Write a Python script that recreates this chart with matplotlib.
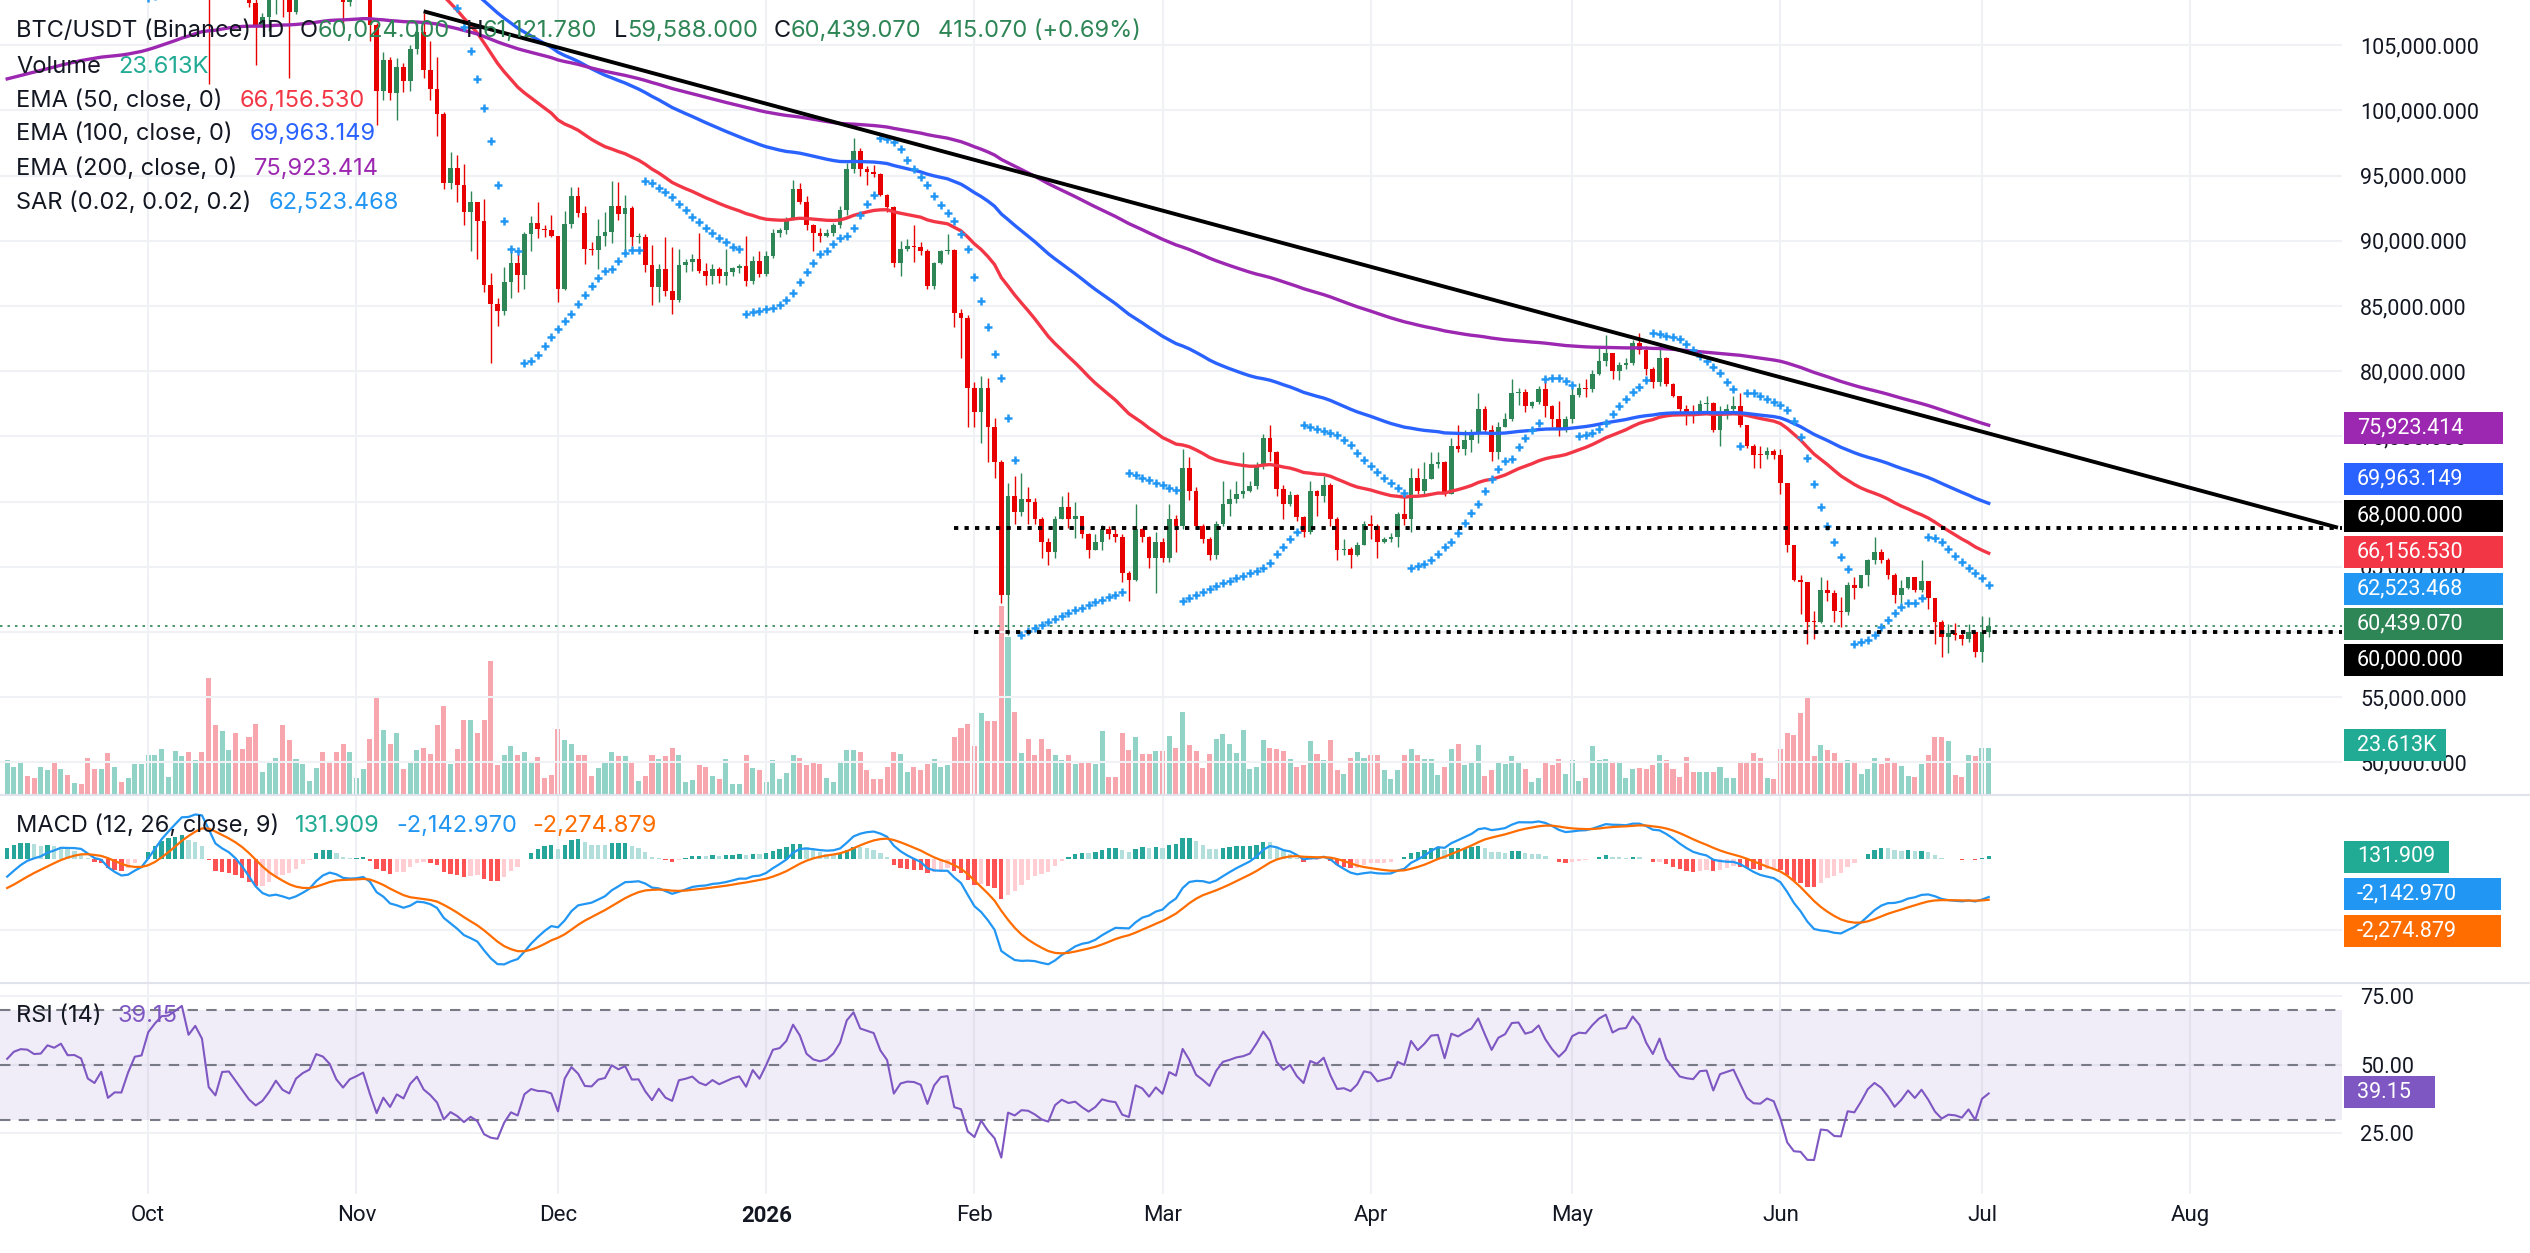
import numpy as np
import pandas as pd
import matplotlib
matplotlib.use("Agg")
import matplotlib.pyplot as plt
from matplotlib.patches import Rectangle
from matplotlib.lines import Line2D

plt.rcParams['font.family'] = ['Roboto', 'DejaVu Sans']

W, H = 2530, 1253
CW = 2342  # width of the plotting area in px

# ---------------- daily BTC/USDT candles, 2025-09-10 .. 2026-07-02 ----------------
start_date = "2025-09-10"
first_open = 111400

close_sep = [113960, 115480, 116030, 115950, 115270, 115350, 116790, 116470, 117140, 115690, 115720,
             115310, 112650, 111990, 113310, 109050, 109710, 109680, 112120, 114400, 114600]
high_sep = [114300, 115900, 116300, 116500, 116100, 116200, 117000, 117300, 117900, 117500, 116200,
            115900, 115500, 113300, 113900, 113500, 110300, 110000, 112500, 114500, 114800]
low_sep = [110600, 113400, 114700, 115200, 114600, 114500, 114700, 114800, 115800, 115200, 115400,
           115100, 111900, 111500, 111700, 108600, 108600, 109100, 109300, 111600, 112600]

close_oct = [118650, 120550, 122270, 122400, 123510, 124750, 121450, 123350, 121700, 112800, 110650,
             115170, 115270, 113120, 110770, 108200, 106450, 107190, 108650, 110580, 108450, 107580,
             110050, 111030, 111640, 114530, 114120, 112900, 110030, 108320, 109610]
high_oct = [118800, 121000, 123900, 122900, 125700, 126200, 125000, 124200, 123800, 122600, 113400,
            115800, 116000, 115700, 113600, 111900, 109300, 107500, 109400, 111700, 114000, 109800,
            111200, 112000, 111900, 115000, 116100, 116100, 113700, 111800, 111200]
low_oct = [114000, 117900, 119300, 121600, 121700, 123100, 120600, 120900, 119600, 102000, 109600,
           110800, 113800, 109700, 110000, 107900, 103500, 106400, 106100, 107400, 107200, 102500,
           107400, 109700, 110800, 111200, 113700, 112100, 109700, 106300, 108000]

close_nov = [110100, 110640, 106530, 101500, 103890, 101300, 103340, 102280, 104720, 105990, 103060,
             101650, 99690, 94400, 95550, 94260, 92200, 92960, 91550, 86640, 85130, 84650, 86830,
             88270, 87340, 90490, 91330, 90900, 90850, 90400]
high_nov = [111200, 111300, 110800, 106700, 104500, 104100, 104000, 103600, 105000, 106700, 107500,
            105300, 104100, 99900, 96800, 96600, 95900, 93800, 93000, 93200, 87500, 85600, 88000,
            89200, 89000, 90700, 91900, 93000, 91200, 92000]
low_nov = [109300, 109500, 105300, 98900, 100800, 100800, 99300, 101400, 101500, 104300, 102500,
           100800, 98000, 94000, 94000, 93000, 91200, 89200, 88600, 86100, 80600, 83500, 84300,
           85600, 86100, 86300, 89200, 90200, 90300, 90300]

close_dec = [86300, 91300, 93450, 92100, 89400, 89300, 90400, 90650, 92700, 92020, 92510, 90270,
             90300, 88170, 86420, 87860, 86140, 85480, 88130, 88340, 88620, 87700, 87300, 87870,
             87300, 87600, 87900, 88070, 86900, 88450, 87480]
high_dec = [90400, 92300, 94100, 94100, 92700, 89900, 91700, 92200, 94600, 94500, 93500, 92700,
            90600, 90500, 89700, 88200, 90300, 89500, 89400, 88600, 89000, 90600, 88300, 88200,
            88000, 89400, 88000, 88200, 90400, 88800, 89200]
low_dec = [85300, 86200, 91000, 91800, 88200, 88900, 87800, 89600, 89800, 91600, 89300, 89600,
           89800, 87600, 85100, 85300, 85800, 84400, 85300, 87600, 87700, 87500, 86600, 86700,
           86800, 86600, 87300, 87500, 86500, 86700, 87200]

close_jan = [88850, 90600, 90800, 91670, 93950, 93000, 91200, 90600, 90400, 90600, 91200, 92400,
             95500, 96900, 95500, 95300, 95100, 93550, 92600, 88300, 89400, 89600, 89550, 89200,
             86500, 88300, 89200, 89300, 84500, 84100, 78700]
high_jan = [89200, 90900, 91000, 91800, 94700, 94400, 93400, 91300, 91000, 90900, 91400, 92700,
            96000, 97900, 97100, 95700, 95800, 95200, 93600, 92700, 90000, 90100, 91200, 89900,
            89400, 88400, 89300, 90500, 89400, 84800, 84300]
low_jan = [87300, 88700, 90300, 90500, 91600, 92800, 90800, 89200, 89900, 90300, 90400, 91000,
           92000, 95200, 95000, 94300, 94900, 93400, 92200, 88000, 87300, 89200, 88400, 88900,
           86300, 86300, 88200, 89000, 83400, 81000, 75700]

close_feb = [76900, 78700, 75700, 73000, 62800, 70400, 69200, 70200, 70000, 68700, 66900, 66100,
             68700, 69600, 68700, 68900, 67500, 66300, 66900, 67900, 67500, 67300, 64550, 64000,
             67900, 67300, 65700, 66900]
high_feb = [79200, 79600, 79500, 76400, 73200, 71400, 72000, 72200, 71100, 70300, 68800, 67200,
            68900, 70400, 70700, 70000, 68900, 67600, 67500, 68200, 68100, 67900, 67500, 64700,
            69800, 68000, 67400, 67700]
low_feb = [75700, 74500, 73000, 71800, 62200, 59800, 68300, 68900, 68300, 68300, 65700, 65100,
           65700, 68700, 68000, 67200, 67200, 65700, 66300, 66300, 67100, 66900, 63800, 62400,
           63900, 66900, 64900, 63000]

close_mar = [65700, 68700, 68100, 72600, 70800, 68100, 67100, 65900, 68300, 69850, 70200, 70600,
             70800, 71200, 72800, 74900, 73800, 71000, 69800, 70500, 68800, 67700, 70800, 70400,
             71300, 68700, 66300, 66400, 65900, 66700, 68300]
high_mar = [67200, 69800, 69000, 74000, 73400, 71100, 68300, 67300, 68500, 71600, 71000, 71600,
            73800, 71600, 73000, 75200, 75900, 73900, 71300, 70800, 70600, 68900, 71600, 70900,
            72000, 71400, 68800, 67100, 66500, 66900, 68500]
low_mar = [65400, 65400, 66100, 67900, 70100, 67900, 66800, 65500, 65600, 68100, 68900, 69900,
           70300, 70700, 71000, 72500, 73100, 70400, 68700, 69700, 68500, 67300, 67500, 68900,
           70000, 68100, 65500, 65900, 64900, 65800, 66700]

close_apr = [68100, 66900, 67100, 67300, 69050, 68700, 71800, 70800, 71700, 72900, 73000, 70600,
             74300, 74000, 74700, 75300, 77100, 75500, 73800, 75700, 76300, 78300, 78400, 77300,
             77600, 78600, 77300, 76300, 75500, 76300]
high_apr = [69000, 68300, 67300, 67600, 69200, 70400, 72600, 72600, 73000, 73800, 73800, 73100,
            74900, 75900, 75500, 75600, 78300, 77300, 75900, 76100, 76800, 79400, 78700, 78600,
            77700, 78900, 79500, 77400, 77700, 76600]
low_apr = [67100, 65700, 66800, 66900, 66500, 68200, 67700, 70600, 70400, 71700, 72600, 70400,
           70600, 73800, 73600, 73800, 74500, 75300, 73100, 73300, 75700, 76200, 77400, 76900,
           77200, 77500, 76500, 75700, 75000, 75300]

close_may = [78200, 78700, 78650, 79800, 80800, 81400, 80000, 80500, 80600, 82200, 81600, 80200,
             79200, 81000, 79050, 78100, 77100, 76900, 76800, 77500, 77550, 75500, 76900, 77100,
             77300, 75900, 74300, 73600, 73550, 73900, 73600]
high_may = [78700, 79100, 79400, 80100, 81800, 82800, 81400, 80700, 81000, 82400, 82900, 81900,
            80300, 82000, 81100, 79100, 78100, 77400, 77400, 77800, 78100, 77600, 77300, 77500,
            78100, 78300, 75900, 74400, 74300, 74200, 74000]
low_may = [76000, 78000, 78000, 78400, 79700, 80400, 79400, 79300, 80200, 80500, 81300, 79700,
           78700, 78900, 78900, 78000, 76700, 75900, 76000, 76700, 76900, 75300, 74300, 76300,
           76800, 75700, 74100, 72600, 72600, 73300, 73300]

close_jun = [71400, 66700, 64000, 63800, 60800, 60750, 63200, 63000, 61600, 61500, 63600, 63400,
             64350, 65500, 66100, 65500, 64350, 62800, 63400, 64200, 63200, 63900, 62600, 60800,
             59600, 59900, 59800, 59450, 60000, 58500]
high_jun = [74000, 71400, 66700, 64400, 63800, 61600, 64200, 64000, 63200, 62700, 63800, 64200,
            64400, 65600, 67300, 66400, 65700, 64500, 64000, 64200, 64200, 65500, 63900, 62600,
            60900, 60600, 60700, 60000, 60600, 60000]
low_jun = [70600, 66100, 63900, 61400, 59100, 59450, 60700, 62400, 60800, 60400, 61300, 62500,
           63400, 63500, 65200, 65300, 64100, 62200, 62200, 63300, 63100, 63100, 61800, 59100,
           58100, 58400, 59400, 59000, 59200, 58100]

close_jul = [60024.0, 60439.07]
high_jul = [61200.0, 61121.78]
low_jul = [57700.0, 59588.0]

# volume in thousands of BTC
vol_sep = [17.2, 13.8, 15.9, 9.4, 8.1, 13.8, 12.0, 16.4, 12.5, 9.9, 5.5, 4.9, 18.5, 12.7, 12.7,
           20.8, 14.0, 6.0, 8.1, 15.3, 15.3]
vol_oct = [19.8, 19.8, 23.1, 8.6, 21.8, 19.2, 21.3, 17.2, 21.3, 59.3, 35.4, 32.0, 22.4, 31.2, 22.9,
           28.9, 35.9, 11.4, 15.9, 18.5, 35.4, 27.6, 17.7, 15.3, 6.8, 13.3, 21.3, 15.6, 21.3, 25.5,
           21.3]
vol_nov = [8.1, 12.5, 28.1, 48.9, 32.8, 25.5, 31.2, 12.5, 15.6, 22.4, 23.7, 20.3, 35.4, 45.0, 15.3,
           23.1, 37.7, 38.0, 30.9, 38.0, 67.6, 14.6, 19.8, 24.4, 19.8, 21.6, 16.6, 19.0, 8.1, 9.9]
vol_dec = [33.3, 27.6, 25.5, 19.8, 19.8, 9.1, 13.3, 16.4, 21.3, 19.2, 19.2, 15.9, 6.8, 9.4, 19.8,
           17.9, 19.2, 23.7, 20.0, 6.0, 7.3, 14.6, 14.0, 9.4, 7.5, 17.9, 4.9, 4.9, 19.8, 13.3, 12.0]
vol_jan = [6.2, 17.2, 7.5, 10.7, 20.0, 18.2, 14.6, 15.9, 15.3, 8.1, 6.0, 15.9, 22.4, 22.4, 21.6,
           12.0, 7.5, 7.5, 13.8, 21.6, 20.3, 11.4, 13.8, 12.0, 15.1, 17.7, 13.8, 14.6, 28.9, 33.5,
           35.9]
vol_feb = [24.4, 41.1, 37.2, 37.2, 96.0, 80.0, 41.9, 20.8, 28.1, 19.8, 28.1, 23.1, 19.8, 17.2, 19.8,
           15.3, 16.4, 15.9, 15.1, 32.2, 8.6, 8.8, 30.9, 22.4, 29.1, 20.3, 20.3, 21.8]
vol_mar = [21.8, 29.6, 23.7, 41.9, 25.0, 21.8, 13.3, 20.3, 28.3, 30.7, 25.5, 20.8, 32.8, 12.7, 13.8,
           27.6, 23.7, 22.9, 21.8, 17.7, 13.8, 14.6, 27.0, 20.3, 17.2, 27.6, 12.0, 10.1, 18.2, 21.6,
           18.5]
vol_apr = [19.8, 19.8, 12.0, 7.5, 12.0, 19.8, 23.1, 19.8, 17.7, 17.7, 9.6, 13.8, 23.1, 25.7, 14.6,
           16.4, 25.0, 9.4, 12.0, 16.6, 15.3, 19.2, 16.6, 12.7, 6.0, 8.1, 15.9, 14.6, 17.7, 10.1]
vol_may = [17.2, 6.8, 8.1, 24.4, 17.2, 17.9, 16.4, 15.9, 8.1, 12.5, 13.3, 12.7, 14.6, 19.8, 17.2,
           12.7, 8.6, 18.7, 11.2, 11.2, 11.2, 11.2, 13.8, 8.1, 8.1, 15.9, 16.6, 20.8, 18.2, 8.1, 7.5]
vol_jun = [22.9, 31.2, 29.9, 41.1, 49.9, 19.5, 25.0, 22.4, 20.8, 15.9, 17.2, 15.9, 10.1, 13.0, 18.2,
           15.1, 18.2, 16.6, 14.3, 9.4, 8.6, 15.3, 19.8, 28.9, 28.9, 26.8, 9.9, 8.8, 19.8, 19.2]
vol_jul = [23.7, 23.613]

# indicator starting values (state before the first visible candle)
ema_seed = {50: 113800, 100: 111500, 200: 102300}
ema12_seed, ema26_seed, signal_seed = 111900, 113150, -1790
rsi_gain_seed, rsi_loss_seed = 950, 1050

# drawn objects
trend_dates = ["2025-11-11", "2026-08-23"]
trend_prices = [107600, 68000]
level_prices = [68000, 60000]
level_from = ["2026-01-29", "2026-02-01"]

months = ["2025-10-01", "2025-11-01", "2025-12-01", "2026-01-01", "2026-02-01", "2026-03-01",
          "2026-04-01", "2026-05-01", "2026-06-01", "2026-07-01", "2026-08-01"]
month_labels = ["Oct", "Nov", "Dec", "2026", "Feb", "Mar", "Apr", "May", "Jun", "Jul", "Aug"]

# ---------------- assemble ----------------
close = np.array(close_sep + close_oct + close_nov + close_dec + close_jan + close_feb + close_mar
                 + close_apr + close_may + close_jun + close_jul, float)
high = np.array(high_sep + high_oct + high_nov + high_dec + high_jan + high_feb + high_mar
                + high_apr + high_may + high_jun + high_jul, float)
low = np.array(low_sep + low_oct + low_nov + low_dec + low_jan + low_feb + low_mar
               + low_apr + low_may + low_jun + low_jul, float)
vol = np.array(vol_sep + vol_oct + vol_nov + vol_dec + vol_jan + vol_feb + vol_mar
               + vol_apr + vol_may + vol_jun + vol_jul, float)
n = len(close)
assert len(high) == n and len(low) == n and len(vol) == n, (n, len(high), len(low), len(vol))

opens = np.concatenate([[first_open], close[:-1]])
high = np.maximum(high, np.maximum(opens, close))
low = np.minimum(low, np.minimum(opens, close))
x = np.arange(n)
t0 = pd.Timestamp(start_date)


def day(s):
    return (pd.Timestamp(s) - t0).days


def ema(values, length, seed):
    a = 2.0 / (length + 1)
    out, e = [], seed
    for v in values:
        e = e + a * (v - e)
        out.append(e)
    return np.array(out)


ema50 = ema(close, 50, ema_seed[50])
ema100 = ema(close, 100, ema_seed[100])
ema200 = ema(close, 200, ema_seed[200])
macd = ema(close, 12, ema12_seed) - ema(close, 26, ema26_seed)
signal = ema(macd, 9, signal_seed)
hist = macd - signal

# RSI (Wilder)
g, l = rsi_gain_seed, rsi_loss_seed
rsi = []
prev = first_open
for c in close:
    ch = c - prev
    g = (g * 13 + max(ch, 0)) / 14
    l = (l * 13 + max(-ch, 0)) / 14
    rsi.append(100 - 100 / (1 + g / l))
    prev = c
rsi = np.array(rsi)

# Parabolic SAR (0.02, 0.02, 0.2)
sar = np.zeros(n)
up, af, ep, s = True, 0.02, high[0], low[0]
sar[0] = s
for i in range(1, n):
    s = s + af * (ep - s)
    if up:
        s = min(s, low[i - 1], low[max(i - 2, 0)])
        if low[i] < s:
            up, s, ep, af = False, ep, low[i], 0.02
        elif high[i] > ep:
            ep, af = high[i], min(af + 0.02, 0.2)
    else:
        s = max(s, high[i - 1], high[max(i - 2, 0)])
        if high[i] > s:
            up, s, ep, af = True, ep, high[i], 0.02
        elif low[i] < ep:
            ep, af = low[i], min(af + 0.02, 0.2)
    sar[i] = s

# ---------------- figure ----------------
UP, DN = '#2e8555', '#e80000'
TXT = '#131722'
GRID = '#f0f1f5'
xlim = (-1.07, 347.6)
mpos = [day(m) for m in months]

fig = plt.figure(figsize=(W / 100, H / 100), dpi=100)
fig.patch.set_facecolor('white')


def rect(top, bottom):
    return [0, 1 - bottom / H, CW / W, (bottom - top) / H]


ax = fig.add_axes(rect(0, 794))
axv = ax.twinx()
ax_m = fig.add_axes(rect(796, 982))
ax_r = fig.add_axes(rect(984, 1194))

for a in (ax, axv, ax_m, ax_r):
    a.set_xlim(*xlim)
    for sp in a.spines.values():
        sp.set_visible(False)

# volume (twin axis, below candles)
ax.set_zorder(axv.get_zorder() + 1)
ax.patch.set_visible(False)
up_mask = close >= opens
axv.bar(x, vol, width=0.75, color=np.where(up_mask, '#92d3c8', '#f7a6ad'), zorder=1)
axv.set_ylim(0, 405)
axv.set_yticks([])

# price pane; labels fully covered by the value tags are left blank
price_ticks = np.arange(50000, 105001, 5000)
hidden = {60000, 70000}
ax.set_ylim(47577, 108466)
ax.set_yticks(price_ticks)
ax.set_yticklabels(["" if int(v) in hidden else f"{v:,.3f}" for v in price_ticks])
ax.yaxis.tick_right()
ax.tick_params(axis='y', length=0, pad=13, labelsize=15.5, labelcolor=TXT)
ax.set_xticks(mpos)
ax.tick_params(axis='x', length=0, labelbottom=False)
ax.grid(True, color=GRID, lw=1.5)
ax.set_axisbelow(True)

ax.vlines(x, low, high, color=np.where(up_mask, UP, DN), lw=1.0, zorder=3)
body = np.maximum(np.abs(close - opens), 70)
ax.bar(x, body, bottom=np.minimum(opens, close), width=0.7,
       color=np.where(up_mask, UP, DN), zorder=4)

ax.plot(x, ema50, color='#f23645', lw=2.4, zorder=5)
ax.plot(x, ema100, color='#2962ff', lw=2.4, zorder=5)
ax.plot(x, ema200, color='#9c27b0', lw=2.4, zorder=5)
ax.plot(x, sar, ls='none', marker='+', ms=6, mew=1.8, color='#2196f3', zorder=5)

tx = [day(d) for d in trend_dates]
ax.plot(tx, trend_prices, color='black', lw=2.8, zorder=6, solid_capstyle='butt')
for p, d in zip(level_prices, level_from):
    ax.plot([day(d), xlim[1]], [p, p], color='black', lw=2.8, ls=(0, (1.1, 1.6)), zorder=6)
ax.axhline(close[-1], color=UP, lw=1.2, ls=(0, (1.5, 3)), zorder=2)

# MACD pane
ax_m.set_ylim(-6910, 3536)
ax_m.set_yticks([-4000])
ax_m.set_xticks(mpos)
ax_m.tick_params(length=0, labelleft=False, labelbottom=False)
ax_m.grid(True, color=GRID, lw=1.5)
ax_m.set_axisbelow(True)
hcol = []
for i in range(n):
    pv = hist[i - 1] if i > 0 else hist[i]
    if hist[i] >= 0:
        hcol.append('#26a69a' if hist[i] >= pv else '#b2dfdb')
    else:
        hcol.append('#ff5252' if hist[i] < pv else '#ffcdd2')
ax_m.bar(x, hist, width=0.65, color=hcol, zorder=2)
ax_m.plot(x, macd, color='#2196f3', lw=1.6, zorder=3)
ax_m.plot(x, signal, color='#ff6d00', lw=1.6, zorder=3)

# RSI pane
ax_r.set_ylim(2.9, 79.5)
ax_r.axhspan(30, 70, color='#7e57c2', alpha=0.1, lw=0, zorder=1)
for lv in (70, 50, 30):
    ax_r.axhline(lv, color='#787b86', lw=1.5, ls=(0, (5, 4)), zorder=2)
ax_r.plot(x, rsi, color='#7e57c2', lw=1.5, zorder=3)
ax_r.set_yticks([25, 50, 75])
ax_r.yaxis.tick_right()
ax_r.yaxis.set_major_formatter(plt.FuncFormatter(lambda v, p: f"{v:.2f}"))
ax_r.tick_params(axis='y', length=0, pad=13, labelsize=15.5, labelcolor=TXT)
ax_r.set_xticks(mpos)
ax_r.set_xticklabels(month_labels)
ax_r.tick_params(axis='x', length=0, pad=8, labelsize=16, labelcolor=TXT)
ax_r.get_xticklabels()[3].set_fontweight('bold')
ax_r.grid(True, color=GRID, lw=1.5)
ax_r.set_axisbelow(True)

# pane separators
for yp in (795, 983):
    fig.add_artist(Line2D([0, 1], [1 - yp / H] * 2, color='#e0e3eb', lw=1.5))

# right-axis value tags
tags = [("75,923.414", 427.6, '#9c27b0', 159), ("69,963.149", 479.2, '#2962ff', 159),
        ("68,000.000", 516.3, '#000000', 159), ("66,156.530", 551.8, '#f23645', 159),
        ("62,523.468", 589.0, '#2196f3', 159), ("60,439.070", 624.4, UP, 159),
        ("60,000.000", 660.0, '#000000', 159), ("23.613K", 745.4, '#22ab94', 102),
        ("131.909", 856.8, '#22ab94', 105), ("-2,142.970", 893.9, '#2196f3', 157),
        ("-2,274.879", 931.0, '#ff6d00', 157), ("39.15", 1092.3, '#7e57c2', 91)]
for txt, yp, col, wd in tags:
    fig.add_artist(Rectangle((2344 / W, 1 - (yp + 16) / H), wd / W, 32 / H,
                             transform=fig.transFigure, color=col, lw=0, zorder=5))
    fig.text(2357 / W, 1 - yp / H, txt, color='white', fontsize=15.5, va='center',
             ha='left', zorder=6)

# legends
renderer = fig.canvas.get_renderer()
LEG_FONT = ['Inter', 'Roboto', 'DejaVu Sans']


def rich(x_px, y_px, parts, size=17):
    xp = x_px
    for s, col, gap in parts:
        t = fig.text(xp / W, 1 - y_px / H, s, color=col, fontsize=size, va='center', ha='left',
                     family=LEG_FONT, zorder=7)
        xp += t.get_window_extent(renderer=renderer).width + gap


G = UP
rich(16, 31, [("BTC/USDT (Binance) 1D", TXT, 15), ("O", TXT, 0), ("60,024.000", G, 16),
              ("H", TXT, 0), ("61,121.780", G, 16), ("L", TXT, 0), ("59,588.000", G, 16),
              ("C", TXT, 0), ("60,439.070", G, 16), ("415.070 (+0.69%)", G, 0)])
rich(16, 67, [("Volume", TXT, 17), ("23.613K", '#22ab94', 0)])
rich(16, 101, [("EMA (50, close, 0)", TXT, 17), ("66,156.530", '#f23645', 0)])
rich(16, 134, [("EMA (100, close, 0)", TXT, 17), ("69,963.149", '#2962ff', 0)])
rich(16, 169, [("EMA (200, close, 0)", TXT, 17), ("75,923.414", '#9c27b0', 0)])
rich(16, 203, [("SAR (0.02, 0.02, 0.2)", TXT, 17), ("62,523.468", '#2196f3', 0)])
rich(16, 826, [("MACD (12, 26, close, 9)", TXT, 16), ("131.909", '#22ab94', 16),
               ("-2,142.970", '#2196f3', 16), ("-2,274.879", '#ff6d00', 0)])
rich(16, 1016, [("RSI (14)", TXT, 16), ("39.15", '#7e57c2', 0)])

fig.savefig("out.png", dpi=100, facecolor='white')
